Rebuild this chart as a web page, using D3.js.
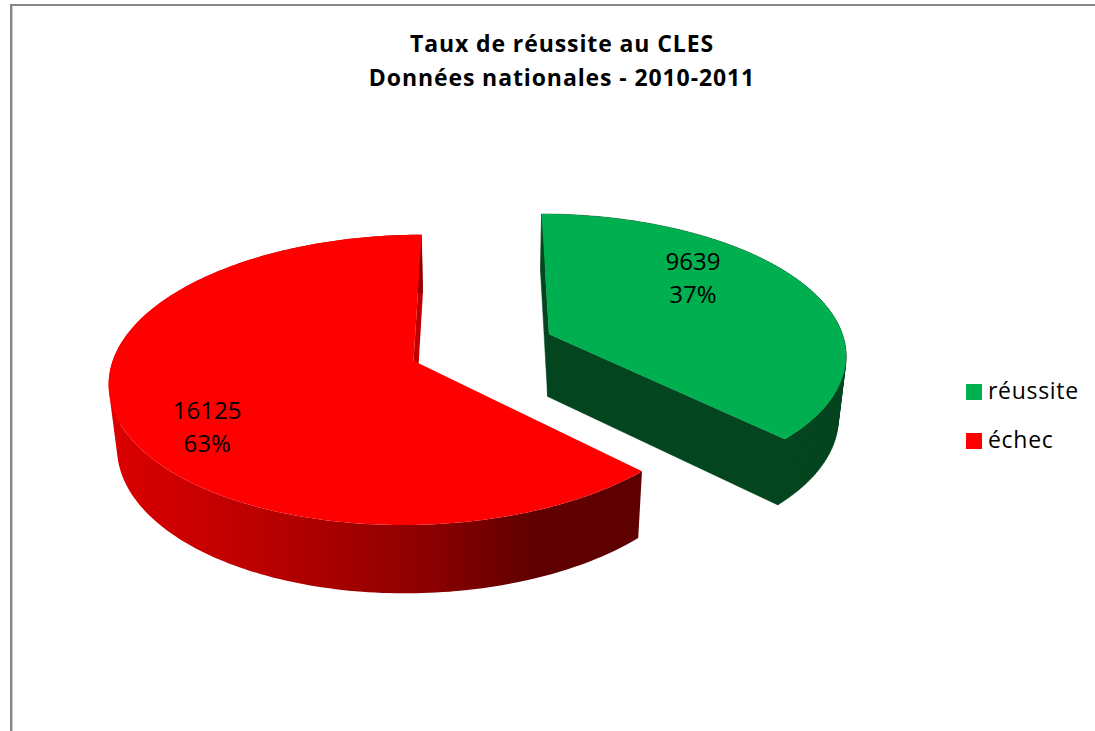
<!DOCTYPE html>
<html>
<head>
<meta charset="utf-8">
<script src="https://cdn.jsdelivr.net/npm/d3@7"></script>
<style>
  html, body { margin: 0; padding: 0; background: #fff; overflow: hidden; }
  svg { display: block; }
</style>
</head>
<body>
<div id="chart"></div>
<script>
// data
const categories = ["réussite", "échec"];
const values = [9639, 16125];
const percentLabels = ["37%", "63%"];
const titleLines = ["Taux de réussite au CLES", "Données nationales - 2010-2011"];
const sliceColors = ["#00b050", "#ff0000"];
const wallColors = ["#03451f", "#c00000"];

const width = 1095, height = 731;
const font = "'Open Sans', 'DejaVu Sans', sans-serif";

// perspective of the pie: u goes right, v goes towards the viewer, unit radius
const view = { cx: 484, cy: 347, rx: 297, ry: 139, persp: 0.13, drop: 64, shrink: 0.022 };
const explode = [0.24, 0.254];

function project(u, v, bottom) {
  const w = 1 - view.persp * v + (bottom ? view.shrink : 0);
  return [
    view.cx + view.rx * u / w,
    view.cy + (view.ry * v + (bottom ? view.drop : 0)) / w
  ];
}

const slices = d3.pie().sort(null).value(d => d)(values);
const line = d3.line();

// u,v of a point on a slice, angle clockwise from 12 o'clock
function planePoint(s, angle, r) {
  const mid = (s.startAngle + s.endAngle) / 2;
  const e = explode[s.index];
  return [
    e * Math.sin(mid) + r * Math.sin(angle),
    -e * Math.cos(mid) - r * Math.cos(angle)
  ];
}

function arcAngles(a0, a1) {
  const n = Math.ceil(Math.abs(a1 - a0) / 0.02);
  return d3.range(n + 1).map(i => a0 + (a1 - a0) * i / n);
}

function topFace(s) {
  const pts = [project(...planePoint(s, 0, 0))];
  arcAngles(s.startAngle, s.endAngle).forEach(a => pts.push(project(...planePoint(s, a, 1))));
  return line(pts) + "Z";
}

// rim as one path of small quads, all wound the same way so the fill has no seams
function rimPath(s) {
  const angles = arcAngles(s.startAngle, s.endAngle);
  return d3.pairs(angles).map(([a, b]) => {
    const pa = planePoint(s, a, 1), pb = planePoint(s, b, 1);
    const corners = [project(...pa), project(...pb), project(...pb, true), project(...pa, true)];
    if (d3.polygonArea(corners) < 0) corners.reverse();
    return line(corners) + "Z";
  }).join("");
}

function cutWall(s, angle) {
  const c = planePoint(s, 0, 0), e = planePoint(s, angle, 1);
  return line([project(...c), project(...e), project(...e, true), project(...c, true)]) + "Z";
}

const svg = d3.select("#chart").append("svg")
  .attr("width", width)
  .attr("height", height);

// shading of the red rim, goes dark to the right
const defs = svg.append("defs");
const grad = defs.append("linearGradient")
  .attr("id", "redRim")
  .attr("gradientUnits", "userSpaceOnUse")
  .attr("x1", 110).attr("x2", 640).attr("y1", 0).attr("y2", 0);
[[0, "#dc0000"], [0.3, "#b80000"], [0.6, "#8c0000"], [0.79, "#620000"], [1, "#5e0000"]].forEach(d => {
  grad.append("stop").attr("offset", d[0]).attr("stop-color", d[1]);
});

// chart frame, only top and left are in the picture
svg.append("rect").attr("x", 10).attr("y", 4).attr("width", width - 10).attr("height", 2).attr("fill", "#868686");
svg.append("rect").attr("x", 10).attr("y", 4).attr("width", 2.4).attr("height", height - 4).attr("fill", "#868686");

// title
svg.append("g").selectAll("text")
  .data(titleLines)
  .enter()
  .append("text")
  .attr("x", 562)
  .attr("y", (d, i) => 52 + i * 34)
  .attr("text-anchor", "middle")
  .attr("font-family", font)
  .attr("font-weight", "bold")
  .attr("font-size", 23)
  .attr("letter-spacing", 0.9)
  .attr("fill", "#000")
  .text(d => d);

const green = slices[0], red = slices[1];

// red slice
svg.append("path").attr("d", cutWall(red, red.endAngle)).attr("fill", wallColors[1]);
svg.append("path").attr("d", rimPath(red)).attr("fill", "url(#redRim)");
svg.append("path").attr("d", topFace(red)).attr("fill", sliceColors[1]);

// green slice, walls in one path too
const greenWalls = cutWall(green, green.startAngle) + cutWall(green, green.endAngle) + rimPath(green);
svg.append("path")
  .attr("d", greenWalls)
  .attr("fill", wallColors[0])
  .attr("stroke", wallColors[0])
  .attr("stroke-width", 0.5);
svg.append("path").attr("d", topFace(green)).attr("fill", sliceColors[0]);

// data labels, placed on the top face
const labelAnchors = [
  { angle: 49.5, r: 0.7 },
  { angle: 236, r: 0.765 }
];
slices.forEach((s, i) => {
  const a = labelAnchors[i];
  const p = project(...planePoint(s, a.angle * Math.PI / 180, a.r));
  const g = svg.append("g").attr("transform", `translate(${p[0]},${p[1]})`);
  [String(values[i]), percentLabels[i]].forEach((t, k) => {
    g.append("text")
      .attr("y", k === 0 ? -6 : 27)
      .attr("text-anchor", "middle")
      .attr("font-family", font)
      .attr("font-size", 24)
      .attr("fill", "#000")
      .text(t);
  });
});

// legend
const legend = svg.append("g").selectAll("g")
  .data(categories)
  .enter()
  .append("g")
  .attr("transform", (d, i) => `translate(966,${384 + i * 49})`);
legend.append("rect")
  .attr("width", 16).attr("height", 16)
  .attr("fill", (d, i) => sliceColors[i]);
legend.append("text")
  .attr("x", 22)
  .attr("y", 15)
  .attr("font-family", font)
  .attr("font-size", 23)
  .attr("letter-spacing", 0.7)
  .attr("fill", "#000")
  .text(d => d);
</script>
</body>
</html>
